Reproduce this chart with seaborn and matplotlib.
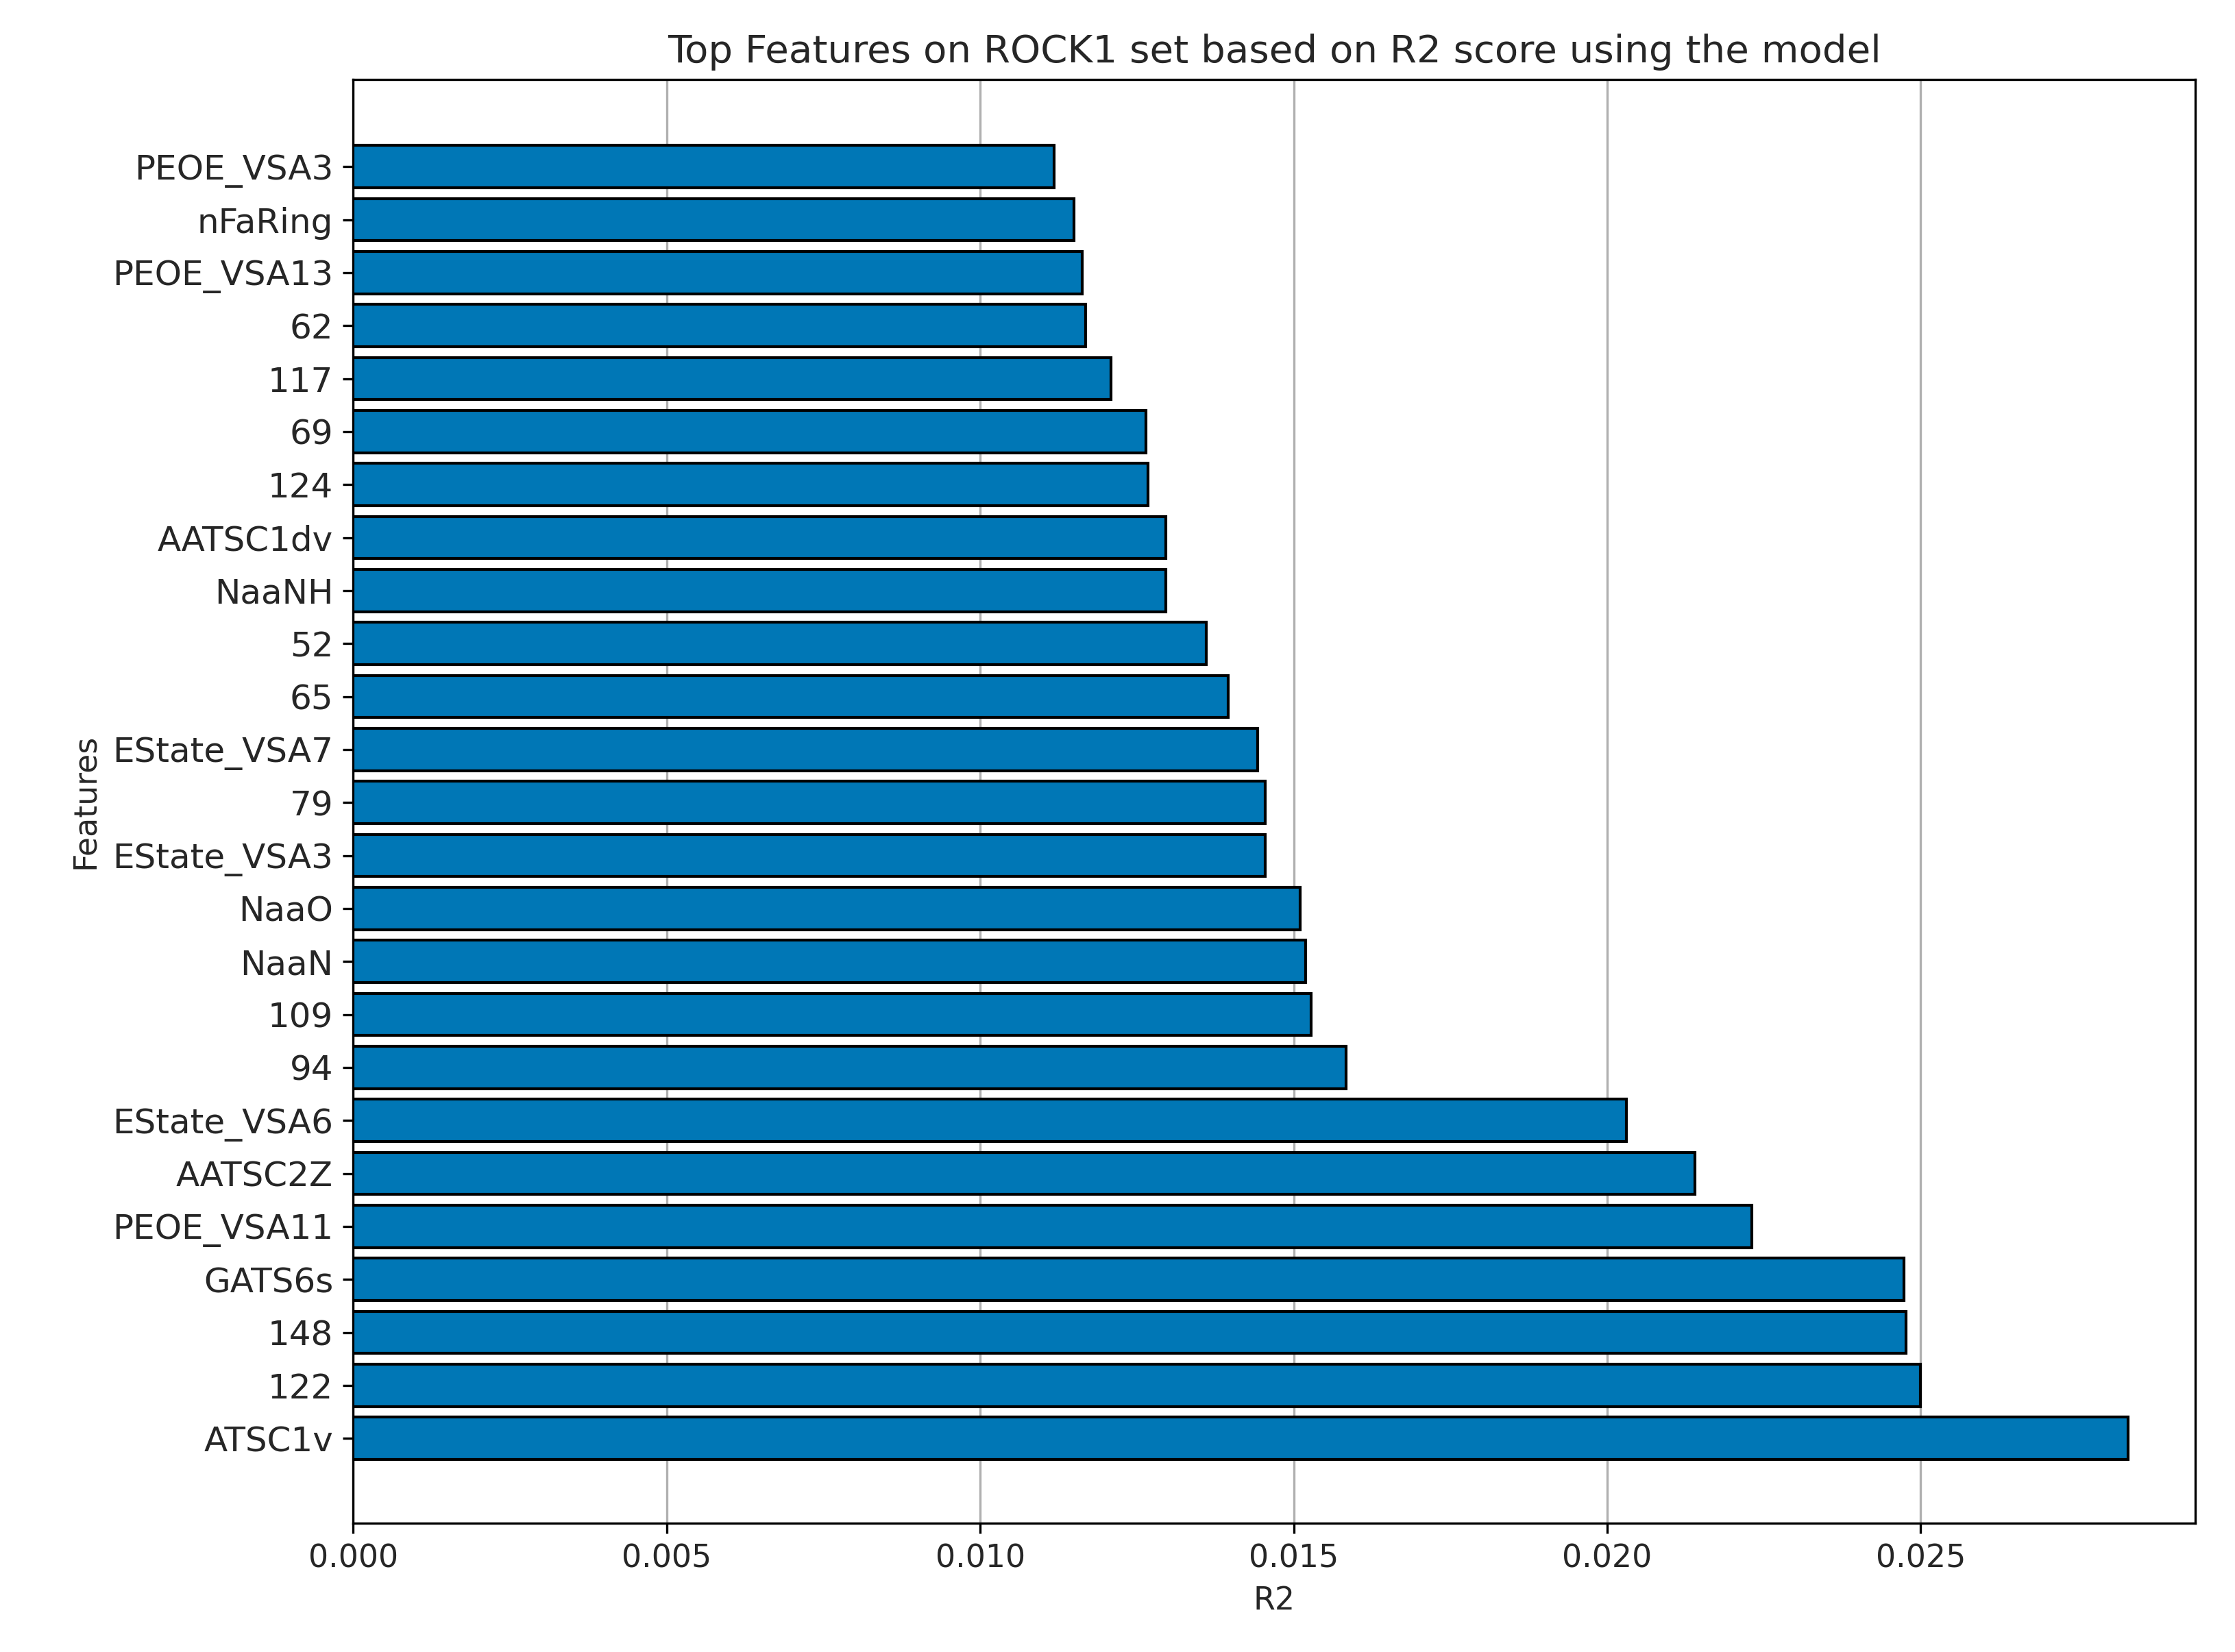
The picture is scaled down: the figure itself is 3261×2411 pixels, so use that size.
import numpy as np
import matplotlib
matplotlib.use("Agg")
import matplotlib.pyplot as plt
import seaborn as sns

# features listed bottom -> top as drawn
features = ["ATSC1v", "122", "148", "GATS6s", "PEOE_VSA11", "AATSC2Z", "EState_VSA6",
            "94", "109", "NaaN", "NaaO", "EState_VSA3", "79", "EState_VSA7", "65", "52",
            "NaaNH", "AATSC1dv", "124", "69", "117", "62", "PEOE_VSA13", "nFaRing", "PEOE_VSA3"]
r2 = [0.02831, 0.02500, 0.02477, 0.02473, 0.02231, 0.02140, 0.02030,
      0.01583, 0.01528, 0.01519, 0.01510, 0.01455, 0.01455, 0.01442, 0.01396, 0.01360,
      0.01296, 0.01296, 0.01268, 0.01264, 0.01209, 0.01168, 0.01163, 0.01150, 0.01118]

sns.set_style("white")
plt.rcParams['font.family'] = ['DejaVu Sans']

fig, ax = plt.subplots(figsize=(10.873, 8.037), dpi=300)
fig.subplots_adjust(left=0.158, right=0.982, top=0.952, bottom=0.078)

ypos = np.arange(len(features))
ax.barh(ypos, r2, color="#0077B6", edgecolor="black", linewidth=1.0, height=0.8, zorder=3)
ax.set_yticks(ypos)
ax.set_yticklabels(features, fontsize=12)
ax.set_ylim(-1.6, len(features) - 1 + 1.65)
ax.set_xlim(0, 0.02938)
ax.set_xticks([0.0, 0.005, 0.010, 0.015, 0.020, 0.025])
ax.set_xticklabels(["0.000", "0.005", "0.010", "0.015", "0.020", "0.025"], fontsize=11)
ax.xaxis.grid(True, color="#b0b0b0", linewidth=0.8, zorder=0)
ax.yaxis.grid(False)
for s in ax.spines.values():
    s.set_color("black")
    s.set_linewidth(0.8)
ax.tick_params(axis="both", which="both", length=3.5, width=0.8, color="black", left=True, bottom=True)
ax.set_xlabel("R2", fontsize=11)
ax.set_ylabel("Features", fontsize=11)
ax.set_title("Top Features on ROCK1 set based on R2 score using the model", fontsize=13.5)

fig.savefig("out.png", dpi=300)
